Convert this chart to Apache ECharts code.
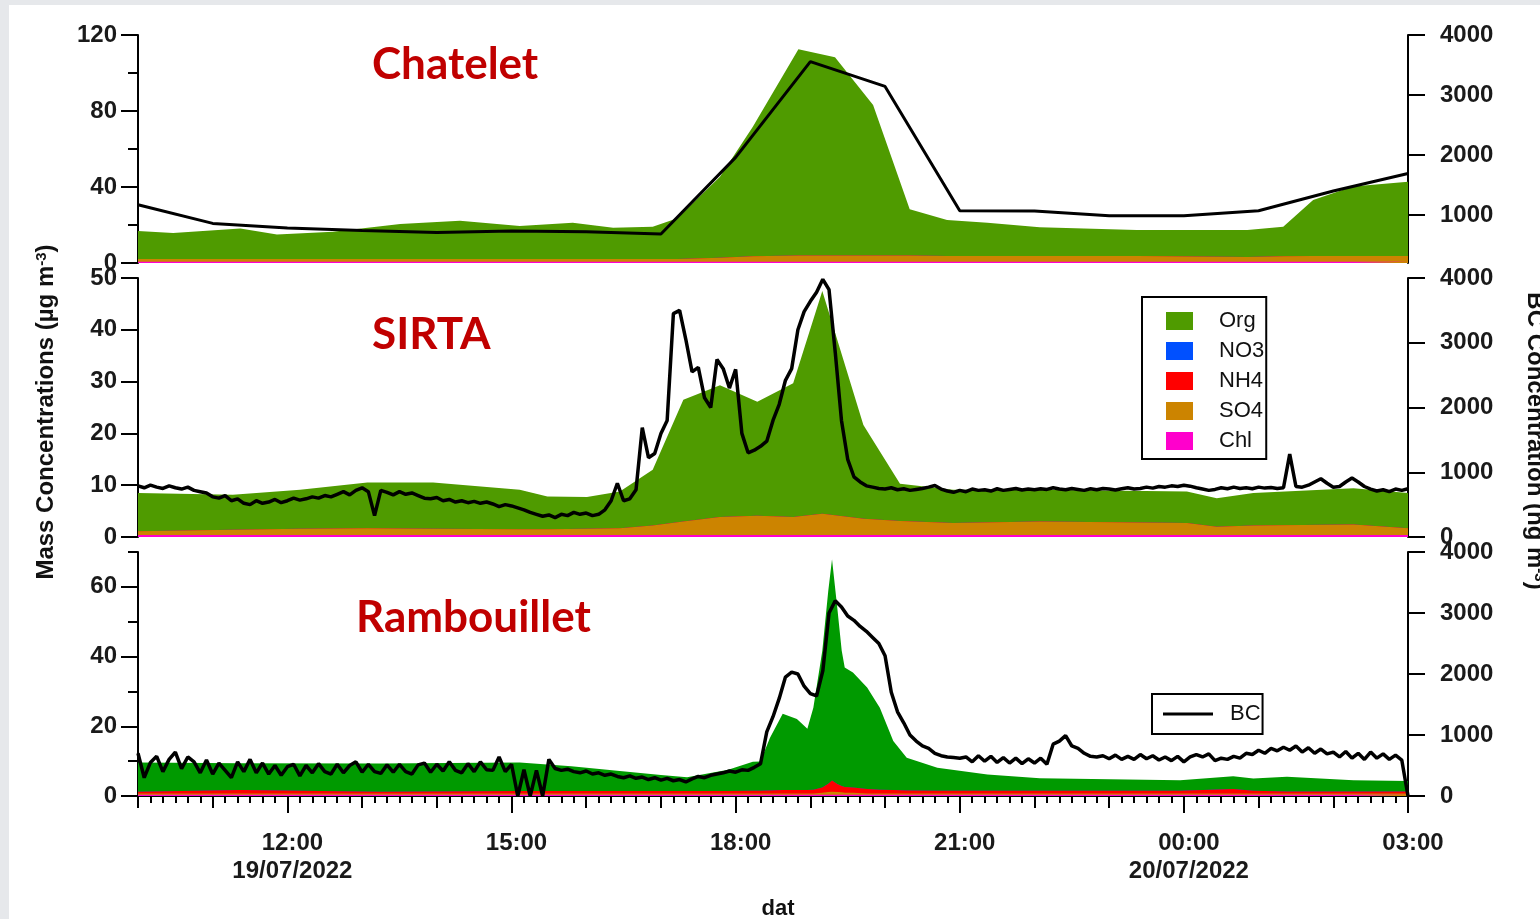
<!DOCTYPE html>
<html><head><meta charset="utf-8">
<script src="https://cdn.jsdelivr.net/npm/echarts@6/dist/echarts.min.js"></script>
<style>html,body{margin:0;padding:0;background:#fff;}#c{width:1540px;height:919px;}</style>
</head><body><div id="c"></div><script>
// ---------------- DATA ----------------
// time as hours counted from 19/07/2022 00:00
const xLabelHours = [12, 15, 18, 21, 24, 27];
const xLabelText = ['12:00\n19/07/2022', '15:00', '18:00', '21:00', '00:00\n20/07/2022', '03:00'];
const bcTopTicks = [1000, 2000, 3000, 4000];
const leftBottomMajor = [0, 20, 40, 60];
const leftBottomMinor = [10, 30, 50, 70];

// Chatelet (AMS composition, µg m-3)
const chatHours = [10.00, 10.47, 11.37, 11.86, 12.61, 13.51, 14.31, 15.11, 15.82, 16.36, 16.89, 17.22, 17.79, 18.23, 18.84, 19.33, 19.84, 20.33, 20.83, 21.37, 22.07, 23.37, 24.85, 25.33, 25.73, 26.26, 27.00];
const chatOrg = [14.7, 13.7, 16.0, 12.9, 14.4, 18.4, 20.2, 17.4, 19.1, 16.5, 17.0, 21.4, 42.7, 68.2, 108.5, 104.3, 79.2, 24.4, 18.9, 17.5, 15.1, 13.7, 14.3, 15.5, 29.5, 36.5, 39.1];
const chatNO3 = [0,0,0,0,0,0,0,0,0,0,0,0,0,0,0,0,0,0,0,0,0,0,0,0,0,0,0];
const chatNH4 = [0,0,0,0,0,0,0,0,0,0,0,0,0,0,0,0,0,0,0,0,0,0,0,0,0,0,0];
const chatSO4 = [1.4, 1.4, 1.4, 1.4, 1.4, 1.4, 1.4, 1.4, 1.4, 1.4, 1.4, 1.4, 2.0, 2.8, 3.3, 3.3, 3.3, 3.2, 3.0, 3.0, 3.0, 3.0, 2.4, 2.9, 3.0, 3.0, 3.0];
const chatChl = [0.7, 0.7, 0.7, 0.7, 0.7, 0.7, 0.7, 0.7, 0.7, 0.7, 0.7, 0.7, 0.7, 0.7, 0.7, 0.7, 0.7, 0.7, 0.7, 0.7, 0.7, 0.7, 0.7, 0.7, 0.7, 0.7, 0.7];
// Chatelet BC (ng m-3), hourly
const chatBcHours = [10, 11, 12, 13, 14, 15, 16, 17, 18, 19, 20, 21, 22, 23, 24, 25, 26, 27];
const chatBc = [1172, 860, 785, 740, 710, 735, 720, 683, 1960, 3555, 3143, 1072, 1065, 988, 988, 1072, 1400, 1693];

// SIRTA
const sirtaHours = [10.00, 11.27, 12.17, 13.07, 13.95, 15.11, 15.48, 16.01, 16.45, 16.89, 17.30, 17.79, 18.29, 18.77, 19.16, 19.71, 20.20, 20.91, 22.07, 24.04, 24.44, 24.93, 26.27, 27.00];
const sirtaOrg = [7.4, 6.75, 7.5, 8.8, 8.9, 7.6, 6.3, 6.1, 7.1, 10.8, 23.5, 25.45, 22.0, 25.85, 43.0, 18.1, 7.2, 6.4, 6.1, 6.1, 5.5, 6.3, 7.0, 6.8];
const sirtaNO3 = [0,0,0,0,0,0,0,0,0,0,0,0,0,0,0,0,0,0,0,0,0,0,0,0];
const sirtaNH4 = [0,0,0,0,0,0,0,0,0,0,0,0,0,0,0,0,0,0,0,0,0,0,0,0];
const sirtaSO4 = [0.7, 1.0, 1.2, 1.3, 1.2, 1.1, 1.1, 1.2, 1.3, 1.8, 2.6, 3.45, 3.7, 3.45, 4.1, 3.1, 2.7, 2.3, 2.6, 2.3, 1.6, 1.8, 2.0, 1.3];
const sirtaChl = [0.4, 0.4, 0.4, 0.4, 0.4, 0.4, 0.4, 0.4, 0.4, 0.4, 0.4, 0.4, 0.4, 0.4, 0.4, 0.4, 0.4, 0.4, 0.4, 0.4, 0.4, 0.4, 0.4, 0.4];
// SIRTA BC, 5-minute values from 10:00
const sirtaBcStart = 10;
const sirtaBc = [
 790, 760, 800, 770, 750, 790, 760, 740, 770, 720,
 700, 680, 620, 600, 640, 560, 590, 520, 500, 560,
 520, 540, 580, 530, 560, 600, 570, 590, 620, 600,
 640, 620, 660, 700, 650, 720, 760, 700, 330, 720,
 690, 650, 700, 660, 680, 640, 600, 590, 610, 560,
 580, 540, 560, 530, 550, 520, 540, 510, 470, 500,
 480, 450,
 420, 380, 350, 320, 340, 300, 350, 330, 380, 350, 370, 330, 350, 420, 560,
 830, 560, 590, 730, 1690, 1225, 1290, 1600, 1800, 3450,
 3500, 3050, 2550, 2620, 2150, 2000, 2740, 2600, 2300, 2590,
 1600, 1300, 1340, 1400, 1480, 1800, 2050, 2420, 2600, 3200,
 3480, 3640, 3780, 3980, 3820, 2850, 1800, 1200, 930, 850,
 790, 770, 750,
 740, 760, 730, 745, 720, 735, 750, 770, 795, 740,
 710, 690, 720, 700, 740, 720, 730, 710, 745, 720,
 735, 750, 725, 740, 730, 745, 735, 760, 740, 730,
 750, 735, 720, 745, 730, 750, 740, 725, 745, 760,
 740, 750, 770, 755, 780, 770, 790, 780, 800, 785,
 760, 740, 720, 735, 760, 745, 770, 750, 760, 745,
 770, 755, 765, 750, 760, 1280, 780, 770, 800, 850,
 900, 830, 770, 780, 850, 910, 850, 780, 740, 710,
 730, 700, 740, 720, 745
];

// Rambouillet
const rambHours = [10.00, 11.37, 13.24, 15.11, 15.80, 16.45, 17.00, 17.35, 17.90, 18.23, 18.33, 18.46, 18.63, 18.82, 18.96, 19.04, 19.16, 19.24, 19.29, 19.36, 19.42, 19.46, 19.57, 19.76, 19.93, 20.11, 20.29, 20.70, 21.37, 22.07, 23.95, 24.66, 24.93, 25.38, 26.27, 27.00];
const rambOrg = [8.4, 7.7, 8.1, 8.2, 7.1, 5.8, 4.6, 4.0, 6.1, 8.3, 8.4, 15.1, 21.9, 20.4, 17.6, 23.5, 39.2, 55.3, 63.5, 50.6, 38.8, 34.3, 33.0, 29.1, 23.5, 14.1, 9.4, 6.6, 4.7, 3.6, 3.0, 3.7, 3.5, 4.2, 3.2, 3.0];
const rambNO3 = [0,0,0,0,0,0,0,0,0,0,0,0,0,0,0,0,0,0,0,0,0,0,0,0,0,0,0,0,0,0,0,0,0,0,0,0];
const rambNH4 = [0.5, 1.0, 0.5, 0.7, 0.7, 0.7, 0.7, 0.7, 0.7, 0.8, 0.8, 0.9, 1.0, 1.0, 1.0, 1.1, 1.5, 2.4, 3.2, 2.3, 1.8, 1.6, 1.5, 1.3, 1.1, 1.0, 0.9, 0.8, 0.8, 0.8, 0.8, 1.3, 0.8, 0.6, 0.6, 0.6];
const rambSO4 = [0.35, 0.35, 0.35, 0.35, 0.35, 0.35, 0.35, 0.35, 0.35, 0.35, 0.35, 0.35, 0.35, 0.35, 0.35, 0.35, 0.6, 0.8, 0.9, 0.8, 0.7, 0.6, 0.6, 0.35, 0.35, 0.35, 0.35, 0.35, 0.35, 0.35, 0.35, 0.35, 0.35, 0.35, 0.35, 0.35];
const rambChl = [0.35, 0.35, 0.35, 0.35, 0.35, 0.35, 0.35, 0.35, 0.35, 0.35, 0.35, 0.35, 0.35, 0.35, 0.35, 0.35, 0.35, 0.35, 0.35, 0.35, 0.35, 0.35, 0.35, 0.35, 0.35, 0.35, 0.35, 0.35, 0.35, 0.35, 0.35, 0.35, 0.35, 0.35, 0.35, 0.35];
// Rambouillet BC, 5-minute values from 10:00
const rambBcStart = 10;
const rambBc = [
 700, 300, 550, 650, 400, 600, 720, 450, 640,
 560, 380, 590, 360, 540, 420, 300, 560, 400, 600, 380, 540,
 360, 500, 340, 480, 520, 330, 500, 380, 530, 400, 360, 520, 380, 500, 560, 390, 520, 400, 370, 510,
 390, 520, 400, 360, 510, 540, 390, 520, 410, 560, 420, 380, 530, 400, 560, 430, 420, 640, 400, 520,
 0, 430, 0, 420, 0,
 600, 450, 420, 440, 400, 380, 410, 360, 380, 340, 360, 320, 300, 330, 290, 310, 270, 300, 260, 290, 250, 270, 230, 280, 320, 300, 340, 360, 380, 410, 390, 430, 420, 470,
 530, 1050, 1300, 1600, 1950, 2030, 2000, 1800, 1680, 1640, 2050, 3000, 3200, 3100, 2950, 2880, 2780, 2700, 2600, 2500, 2300, 1700, 1380, 1200, 1000, 900, 820, 780, 700, 660, 640, 630, 620,
 640, 560, 660, 570, 650, 550, 630, 540, 620, 530, 610, 540, 620, 520,
 850, 900, 990, 820, 780, 700, 650, 640,
 660, 610, 670, 600, 650, 600, 680, 610, 660, 590,
 640, 580, 650, 560, 640, 680, 640, 690, 580, 620,
 600, 650, 620, 700, 680, 750, 700, 780, 740, 800,
 750, 820, 720, 790, 700, 770, 690, 720, 640, 730,
 620, 700, 600, 720, 620, 690, 600, 670, 590, 0
];

// ---------------- CHART ----------------
const pairs = (hours, vals) => vals.map((v, i) => [hours[i], v]);
const stepPairs = (start, vals) => vals.map((v, i) => [start + i / 12, v]);

const C = { orgA: '#4f9b00', orgB: '#009a00', no3: '#0050ff', nh4: '#ff0000', so4: '#cc8400', chl: '#ff00cc' };
const FONT = 'Liberation Sans';
const black = { color: '#000', width: 2 };

// stacked areas: bottom -> top order Chl, SO4, NH4, NO3, Org; each band drawn filled from 0 to its cumulative top,
// the tallest first so the lower bands are painted over it.
function stackedPanel(grid, hours, comps, orgColor) {
  const names = ['Chl', 'SO4', 'NH4', 'NO3', 'Org'];
  const colors = [C.chl, C.so4, C.nh4, C.no3, orgColor];
  const tops = [];
  let run = hours.map(() => 0);
  comps.forEach(arr => { run = run.map((r, i) => r + arr[i]); tops.push(run); });
  const out = [];
  for (let k = 4; k >= 0; k--) {
    out.push({ name: names[k], type: 'line', xAxisIndex: grid, yAxisIndex: [0, 2, 4][grid],
      data: pairs(hours, tops[k]), symbol: 'none', showSymbol: false,
      lineStyle: { width: 0, color: colors[k] }, itemStyle: { color: colors[k] },
      areaStyle: { color: colors[k], opacity: 1, origin: 'start' }, z: 2, silent: true });
  }
  return out;
}
function bcLine(grid, data, w) {
  return { name: 'BC', type: 'line', xAxisIndex: grid, yAxisIndex: [1, 3, 6][grid], data, symbol: 'none', showSymbol: false,
    lineStyle: { color: '#000', width: w }, itemStyle: { color: '#000' }, z: 5, silent: true };
}

const minorTicks = [];
for (let k = 0; k <= 102; k++) minorTicks.push(10 + k / 6);
const hourTicks = [];
for (let h = 10; h <= 27; h++) hourTicks.push(h);

const labelStyle = { fontFamily: FONT, fontSize: 24, fontWeight: 'bold', color: '#1a1a1a' };
const plain = v => String(v);
const gridBox = [
  { left: 138, right: 132, top: 35, height: 228 },
  { left: 138, right: 132, top: 278, height: 259 },
  { left: 138, right: 132, top: 552, height: 244 }
];
const hiddenX = g => ({ gridIndex: g, type: 'value', min: 10, max: 27, show: false });

const option = {
  animation: false,
  backgroundColor: '#fff',
  grid: gridBox,
  xAxis: [
    hiddenX(0), hiddenX(1),
    { gridIndex: 2, type: 'value', min: 10, max: 27, position: 'bottom',
      axisLine: { show: true, lineStyle: black },
      axisTick: { show: true, length: 17, lineStyle: black, customValues: xLabelHours },
      axisLabel: Object.assign({ customValues: xLabelHours, margin: 33, lineHeight: 28, padding: [0, 0, 0, 10],
        formatter: v => { const i = xLabelHours.findIndex(h => Math.abs(h - v) < 1e-6); return i >= 0 ? xLabelText[i] : ''; } }, labelStyle),
      splitLine: { show: false } },
    { gridIndex: 2, type: 'value', min: 10, max: 27, position: 'bottom',
      axisLine: { show: false }, axisTick: { show: true, length: 12, lineStyle: black, customValues: hourTicks },
      axisLabel: { show: false }, splitLine: { show: false } },
    { gridIndex: 2, type: 'value', min: 10, max: 27, position: 'bottom',
      axisLine: { show: false }, axisTick: { show: true, length: 7, lineStyle: black, customValues: minorTicks },
      axisLabel: { show: false }, splitLine: { show: false } }
  ],
  yAxis: [
    { gridIndex: 0, type: 'value', min: 0, max: 120, interval: 40, position: 'left',
      axisLine: { show: true, lineStyle: black }, axisTick: { show: true, length: 17, lineStyle: black },
      minorTick: { show: true, splitNumber: 2, length: 10, lineStyle: black },
      axisLabel: Object.assign({ margin: 21, formatter: plain }, labelStyle), splitLine: { show: false } },
    { gridIndex: 0, type: 'value', min: 200, max: 4000, position: 'right',
      axisLine: { show: true, lineStyle: black }, axisTick: { show: true, length: 17, lineStyle: black, customValues: bcTopTicks },
      axisLabel: Object.assign({ margin: 32, customValues: bcTopTicks, formatter: plain }, labelStyle), splitLine: { show: false } },
    { gridIndex: 1, type: 'value', min: 0, max: 50, interval: 10, position: 'left',
      axisLine: { show: true, lineStyle: black }, axisTick: { show: true, length: 17, lineStyle: black },
      axisLabel: Object.assign({ margin: 21, formatter: plain }, labelStyle), splitLine: { show: false } },
    { gridIndex: 1, type: 'value', min: 0, max: 4000, interval: 1000, position: 'right',
      axisLine: { show: true, lineStyle: black }, axisTick: { show: true, length: 17, lineStyle: black },
      axisLabel: Object.assign({ margin: 32, formatter: plain }, labelStyle), splitLine: { show: false } },
    { gridIndex: 2, type: 'value', min: 0, max: 70, position: 'left',
      axisLine: { show: true, lineStyle: black }, axisTick: { show: true, length: 17, lineStyle: black, customValues: leftBottomMajor },
      axisLabel: Object.assign({ margin: 21, customValues: leftBottomMajor, formatter: plain }, labelStyle), splitLine: { show: false } },
    { gridIndex: 2, type: 'value', min: 0, max: 70, position: 'left',
      axisLine: { show: false }, axisTick: { show: true, length: 10, lineStyle: black, customValues: leftBottomMinor },
      axisLabel: { show: false }, splitLine: { show: false } },
    { gridIndex: 2, type: 'value', min: 0, max: 4000, interval: 1000, position: 'right',
      axisLine: { show: true, lineStyle: black }, axisTick: { show: true, length: 17, lineStyle: black },
      axisLabel: Object.assign({ margin: 32, formatter: plain }, labelStyle), splitLine: { show: false } }
  ],
  legend: [
    { data: ['Org', 'NO3', 'NH4', 'SO4', 'Chl'], orient: 'vertical', left: 1142, top: 297,
      icon: 'rect', itemWidth: 27, itemHeight: 18, itemGap: 8, selectedMode: false,
      padding: [13, 2, 7, 24], borderColor: '#000', borderWidth: 2, borderRadius: 0, backgroundColor: '#fff',
      textStyle: { fontFamily: FONT, fontSize: 22, color: '#111', padding: [0, 0, 0, 21] } },
    { data: [{ name: 'BC', icon: 'rect' }], orient: 'horizontal', left: 1152, top: 694, itemWidth: 50, itemHeight: 3, selectedMode: false,
      padding: [9, 2, 9, 11], borderColor: '#000', borderWidth: 2, borderRadius: 0, backgroundColor: '#fff',
      textStyle: { fontFamily: FONT, fontSize: 22, color: '#111', padding: [0, 0, 0, 12] } }
  ],
  series: [].concat(
    stackedPanel(0, chatHours, [chatChl, chatSO4, chatNH4, chatNO3, chatOrg], C.orgA),
    [bcLine(0, pairs(chatBcHours, chatBc), 3)],
    stackedPanel(1, sirtaHours, [sirtaChl, sirtaSO4, sirtaNH4, sirtaNO3, sirtaOrg], C.orgA),
    [bcLine(1, stepPairs(sirtaBcStart, sirtaBc), 3.5)],
    stackedPanel(2, rambHours, [rambChl, rambSO4, rambNH4, rambNO3, rambOrg], C.orgB),
    [bcLine(2, stepPairs(rambBcStart, rambBc), 3.5)]
  ),
  graphic: [
    { type: 'rect', z: 100, silent: true, shape: { x: 0, y: 0, width: 1540, height: 5 }, style: { fill: '#e6e8eb' } },
    { type: 'rect', z: 100, silent: true, shape: { x: 0, y: 0, width: 9, height: 919 }, style: { fill: '#e6e8eb' } },
    { type: 'text', x: 372, y: 65, z: 50, style: { text: 'Chatelet', font: 'bold 44px Lato', fill: '#c00000', align: 'left', verticalAlign: 'middle' } },
    { type: 'text', x: 372, y: 335, z: 50, style: { text: 'SIRTA', font: 'bold 44px Lato', fill: '#c00000', align: 'left', verticalAlign: 'middle' } },
    { type: 'text', x: 356, y: 618, z: 50, style: { text: 'Rambouillet', font: 'bold 44px Lato', fill: '#c00000', align: 'left', verticalAlign: 'middle' } },
    { type: 'text', x: 46, y: 412, rotation: Math.PI / 2, z: 50,
      style: { text: 'Mass Concentrations (µg m{sup|-3})', font: 'bold 24px "Liberation Sans"', fill: '#111', align: 'center', verticalAlign: 'middle',
        rich: { sup: { font: 'bold 15px "Liberation Sans"', fill: '#111', verticalAlign: 'top' } } } },
    { type: 'text', x: 1535, y: 441, rotation: -Math.PI / 2, z: 50,
      style: { text: 'BC Concentration (ng m{sup|-3})', font: 'bold 24px "Liberation Sans"', fill: '#111', align: 'center', verticalAlign: 'middle',
        rich: { sup: { font: 'bold 15px "Liberation Sans"', fill: '#111', verticalAlign: 'top' } } } },
    { type: 'text', x: 778, y: 909, z: 50, style: { text: 'dat', font: 'bold 22px "Liberation Sans"', fill: '#111', align: 'center', verticalAlign: 'middle' } }
  ]
};
echarts.init(document.getElementById('c'), null, { renderer: 'canvas' }).setOption(option);
</script></body></html>
